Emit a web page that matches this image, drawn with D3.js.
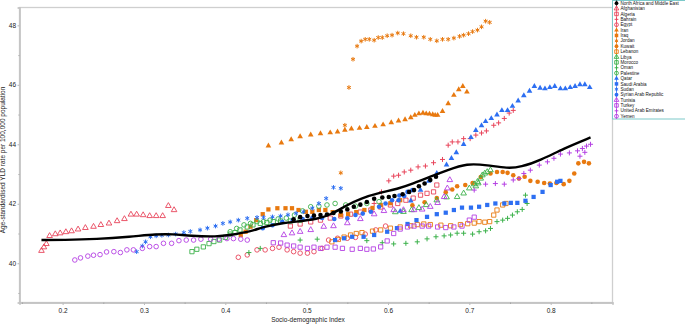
<!DOCTYPE html>
<html>
<head>
<meta charset="utf-8">
<script src="https://cdn.jsdelivr.net/npm/d3@7"></script>
<style>
  body { margin: 0; background: #fff; }
  svg { display: block; font-family: "Liberation Sans", Arial, sans-serif; }
</style>
</head>
<body>
<svg id="chart" width="685" height="325"></svg>
<script>
// ---- data ----
const regionName = "North Africa and Middle East";
const countries = ["Afghanistan", "Algeria", "Bahrain", "Egypt", "Iran", "Iraq", "Jordan", "Kuwait",
  "Lebanon", "Libya", "Morocco", "Oman", "Palestine", "Qatar", "Saudi Arabia", "Sudan",
  "Syrian Arab Republic", "Tunisia", "Turkey", "United Arab Emirates", "Yemen"];

const xTickValues = [0.2, 0.3, 0.4, 0.5, 0.6, 0.7, 0.8];
const xMinorTicks = [0.15, 0.25, 0.35, 0.45, 0.55, 0.65, 0.75, 0.85];
const yTickValues = [40, 42, 44, 46, 48];
const yMinorTicks = [39, 41, 43, 45, 47];

// smoothed regional trend (black line)
const trendSdi = [0.174, 0.201, 0.242, 0.283, 0.316, 0.336, 0.357, 0.390, 0.406, 0.431, 0.447, 0.472, 0.488, 0.513, 0.529,
  0.550, 0.566, 0.591, 0.611, 0.632, 0.652, 0.673, 0.697, 0.722, 0.747, 0.763, 0.788, 0.816, 0.849];
const trendYld = [40.78, 40.78, 40.81, 40.89, 40.98, 40.98, 40.92, 40.89, 40.95, 41.06, 41.23, 41.36, 41.40, 41.49, 41.62,
  41.96, 42.18, 42.38, 42.49, 42.69, 42.91, 43.13, 43.36, 43.30, 43.19, 43.23, 43.47, 43.86, 44.23];

const regionSdi = [0.484, 0.492, 0.501, 0.509, 0.517, 0.525, 0.533, 0.542, 0.550, 0.558, 0.566, 0.574, 0.583, 0.593, 0.601,
  0.608, 0.618, 0.626, 0.632, 0.638, 0.645, 0.652, 0.659];
const regionYld = [41.48, 41.55, 41.59, 41.60, 41.62, 41.64, 41.69, 41.74, 41.81, 41.90, 41.97, 42.06, 42.17, 42.21, 42.23,
  42.26, 42.32, 42.40, 42.46, 42.59, 42.68, 42.80, 42.91];

const afghanistanSdi = [0.174, 0.177, 0.180, 0.184, 0.191, 0.197, 0.204, 0.211, 0.219, 0.228, 0.238, 0.247, 0.257, 0.267, 0.276,
  0.284, 0.291, 0.299, 0.307, 0.315, 0.323, 0.330, 0.337];
const afghanistanYld = [40.42, 40.54, 40.65, 40.92, 40.98, 41.01, 41.05, 41.08, 41.14, 41.19, 41.23, 41.29, 41.34, 41.42, 41.49,
  41.64, 41.64, 41.62, 41.59, 41.59, 41.59, 41.93, 41.79];

const algeriaSdi = [0.480, 0.492, 0.505, 0.517, 0.529, 0.542, 0.554, 0.566, 0.579, 0.591, 0.603, 0.612, 0.622, 0.631, 0.640, 0.648, 0.656, 0.660];
const algeriaYld = [41.25, 41.32, 41.39, 41.45, 41.52, 41.59, 41.65, 41.72, 41.79, 41.89, 41.96, 42.01, 42.12, 42.19, 42.29, 42.35, 42.40, 42.63];

const bahrainSdi = [0.583, 0.592, 0.601, 0.607, 0.613, 0.620, 0.628, 0.637, 0.646, 0.656, 0.667, 0.674, 0.679, 0.686, 0.693,
  0.701, 0.708, 0.715, 0.721, 0.730, 0.736, 0.743, 0.749, 0.754];
const bahrainYld = [42.01, 42.40, 42.77, 42.93, 42.96, 43.07, 43.13, 43.24, 43.27, 43.38, 43.49, 43.97, 44.08, 44.08, 44.19,
  44.19, 44.31, 44.38, 44.45, 44.64, 44.72, 44.87, 45.05, 45.14];

const egyptSdi = [0.416, 0.427, 0.439, 0.449, 0.458, 0.466, 0.476, 0.484, 0.492, 0.501, 0.509, 0.519, 0.527, 0.538, 0.550, 0.560, 0.572, 0.585, 0.597];
const egyptYld = [40.20, 40.28, 40.45, 40.45, 40.50, 40.54, 40.45, 40.39, 40.34, 40.34, 40.39, 40.50, 40.78, 40.84, 40.84, 40.87, 40.98, 41.12, 41.25];

const iranSdi = [0.453, 0.469, 0.481, 0.492, 0.505, 0.517, 0.529, 0.538, 0.547, 0.555, 0.565, 0.574, 0.584, 0.594, 0.604,
  0.613, 0.621, 0.628, 0.633, 0.638, 0.643, 0.647, 0.651, 0.655, 0.658, 0.661, 0.667, 0.674, 0.681, 0.687, 0.692, 0.697];
const iranYld = [43.95, 44.05, 44.16, 44.26, 44.32, 44.36, 44.39, 44.42, 44.48, 44.52, 44.54, 44.57, 44.61, 44.66, 44.73,
  44.79, 44.83, 44.90, 44.98, 45.03, 45.05, 45.03, 45.02, 45.00, 44.98, 44.98, 45.11, 45.37, 45.65, 45.84, 45.95, 45.76];

const iraqSdi = [0.419, 0.425, 0.431, 0.438, 0.446, 0.453, 0.464, 0.474, 0.482, 0.490, 0.499, 0.507, 0.515, 0.523, 0.532,
  0.542, 0.551, 0.561, 0.571, 0.581, 0.591, 0.603, 0.615];
const iraqYld = [40.95, 41.06, 41.23, 41.45, 41.65, 41.81, 41.85, 41.85, 41.85, 41.79, 41.73, 41.73, 41.79, 41.79, 41.72,
  41.62, 41.65, 41.72, 41.79, 41.86, 41.96, 42.02, 42.12];

const jordanSdi = [0.542, 0.547, 0.552, 0.557, 0.562, 0.567, 0.572, 0.577, 0.583, 0.588, 0.593, 0.599, 0.605, 0.612, 0.619, 0.628,
  0.635, 0.644, 0.652, 0.660, 0.667, 0.674, 0.681, 0.688, 0.693, 0.699, 0.704, 0.710, 0.715, 0.720, 0.725];
const jordanYld = [43.04, 44.64, 45.91, 46.86, 47.30, 47.47, 47.53, 47.53, 47.50, 47.59, 47.59, 47.65, 47.67, 47.74, 47.72, 47.65,
  47.60, 47.60, 47.53, 47.48, 47.53, 47.53, 47.57, 47.63, 47.67, 47.72, 47.79, 47.84, 47.95, 48.14, 48.10];

const kuwaitSdi = [0.630, 0.645, 0.660, 0.671, 0.679, 0.685, 0.695, 0.704, 0.714, 0.726, 0.734, 0.741, 0.747, 0.754, 0.761,
  0.768, 0.775, 0.784, 0.792, 0.799, 0.807, 0.816, 0.823, 0.829, 0.834, 0.841, 0.847];
const kuwaitYld = [41.95, 42.05, 42.19, 42.39, 42.48, 42.59, 42.63, 42.70, 42.90, 43.02, 43.07, 43.07, 43.04, 42.96, 42.85,
  42.91, 42.77, 42.74, 42.70, 42.68, 42.70, 42.66, 42.77, 43.02, 43.36, 43.41, 43.36];

const lebanonSdi = [0.531, 0.539, 0.546, 0.554, 0.561, 0.568, 0.581, 0.591, 0.603, 0.615, 0.628, 0.636, 0.644, 0.652, 0.665,
  0.677, 0.689, 0.698, 0.706, 0.712, 0.719, 0.725, 0.730, 0.734, 0.741, 0.745];
const lebanonYld = [40.72, 40.80, 40.88, 40.95, 41.00, 41.03, 41.08, 41.12, 41.18, 41.22, 41.26, 41.30, 41.32, 41.30, 41.28,
  41.26, 41.30, 41.33, 41.35, 41.40, 41.38, 41.40, 41.62, 41.79, 41.96, 42.01];

const libyaSdi = [0.609, 0.619, 0.629, 0.638, 0.647, 0.660, 0.672, 0.685, 0.693, 0.700, 0.706, 0.710, 0.714, 0.716, 0.719, 0.722, 0.726, 0.711, 0.708];
const libyaYld = [41.72, 41.73, 41.79, 41.86, 41.96, 42.12, 42.22, 42.23, 42.35, 42.52, 42.66, 42.74, 42.85, 42.96, 43.02, 43.07, 43.13, 42.69, 42.59];

const moroccoSdi = [0.359, 0.365, 0.373, 0.380, 0.386, 0.393, 0.400, 0.406, 0.412, 0.418, 0.427, 0.434, 0.443, 0.451, 0.459, 0.468, 0.480, 0.492];
const moroccoYld = [40.39, 40.47, 40.55, 40.66, 40.73, 40.78, 40.87, 40.98, 41.03, 41.12, 41.22, 41.29, 41.34, 41.37, 41.40, 41.42, 41.42, 41.45];

const omanSdi = [0.429, 0.443, 0.492, 0.513, 0.574, 0.593, 0.607, 0.622, 0.636, 0.648, 0.659, 0.669, 0.677, 0.685, 0.693,
  0.704, 0.712, 0.720, 0.726, 0.734, 0.741, 0.747, 0.753, 0.759, 0.765, 0.771, 0.769];
const omanYld = [40.36, 40.50, 40.78, 40.81, 40.76, 40.69, 40.65, 40.67, 40.72, 40.82, 40.89, 40.92, 40.95, 41.01, 41.01,
  40.98, 41.06, 41.09, 41.17, 41.40, 41.45, 41.51, 41.62, 41.73, 41.81, 42.01, 42.29];

const palestineSdi = [0.406, 0.414, 0.423, 0.431, 0.439, 0.447, 0.455, 0.465, 0.475, 0.485, 0.495, 0.505, 0.515, 0.525, 0.535, 0.548, 0.560, 0.574, 0.589];
const palestineYld = [41.06, 41.17, 41.29, 41.34, 41.40, 41.40, 41.45, 41.49, 41.52, 41.62, 41.76, 41.90, 41.92, 41.96, 42.01, 41.96, 41.92, 42.01, 42.07];

const qatarSdi = [0.615, 0.628, 0.640, 0.650, 0.660, 0.672, 0.678, 0.684, 0.693, 0.702, 0.708, 0.715, 0.720, 0.727, 0.734, 0.740,
  0.747, 0.753, 0.760, 0.767, 0.774, 0.780, 0.787, 0.793, 0.799, 0.805, 0.812, 0.818, 0.824, 0.830, 0.836, 0.842, 0.848];
const qatarYld = [41.75, 42.10, 42.46, 42.76, 43.03, 43.31, 43.53, 43.72, 44.00, 44.23, 44.47, 44.63, 44.77, 44.87, 44.99, 45.14,
  45.14, 45.28, 45.46, 45.64, 45.79, 45.95, 45.89, 45.87, 45.91, 45.95, 45.87, 45.87, 45.91, 45.95, 46.01, 46.01, 45.91];

const saudiSdi = [0.535, 0.546, 0.556, 0.570, 0.583, 0.599, 0.611, 0.624, 0.635, 0.648, 0.660, 0.671, 0.681, 0.691, 0.702,
  0.712, 0.722, 0.732, 0.743, 0.751, 0.759, 0.769, 0.779, 0.790, 0.800, 0.808, 0.812];
const saudiYld = [40.78, 40.84, 40.89, 40.89, 40.95, 41.06, 41.18, 41.32, 41.45, 41.56, 41.65, 41.70, 41.79, 41.87, 41.87,
  41.90, 41.96, 42.01, 42.01, 42.03, 42.03, 42.10, 42.23, 42.40, 42.63, 42.74, 42.77];

const sudanSdi = [0.291, 0.298, 0.302, 0.308, 0.315, 0.322, 0.330, 0.339, 0.349, 0.357, 0.369, 0.378, 0.388, 0.397, 0.406,
  0.416, 0.427, 0.439, 0.447, 0.458, 0.468, 0.477, 0.487, 0.496, 0.507, 0.515, 0.524, 0.533, 0.542];
const sudanYld = [40.39, 40.58, 40.72, 40.89, 40.92, 40.94, 40.95, 40.98, 41.03, 41.07, 41.12, 41.18, 41.25, 41.34, 41.39,
  41.45, 41.51, 41.54, 41.54, 41.56, 41.59, 41.63, 41.68, 41.73, 41.85, 42.01, 42.18, 42.55, 42.52];

const syriaSdi = [0.446, 0.458, 0.470, 0.483, 0.495, 0.507, 0.519, 0.534, 0.550, 0.560, 0.569, 0.579, 0.589, 0.597, 0.605, 0.614, 0.624, 0.630, 0.620, 0.613];
const syriaYld = [41.18, 41.28, 41.39, 41.45, 41.49, 41.52, 41.52, 41.49, 41.51, 41.62, 41.67, 41.73, 41.90, 42.01, 42.12, 42.28, 42.40, 42.46, 42.26, 42.12];

const tunisiaSdi = [0.472, 0.482, 0.492, 0.505, 0.521, 0.533, 0.550, 0.566, 0.583, 0.595, 0.607, 0.619, 0.632, 0.642, 0.652, 0.661, 0.669, 0.673, 0.676];
const tunisiaYld = [40.95, 41.01, 41.06, 41.12, 41.23, 41.25, 41.35, 41.49, 41.65, 41.76, 41.79, 41.79, 41.79, 41.81, 41.90, 42.03, 42.23, 42.52, 42.80];

const turkeySdi = [0.459, 0.468, 0.476, 0.484, 0.492, 0.501, 0.509, 0.517, 0.525, 0.535, 0.544, 0.556, 0.566, 0.574, 0.582,
  0.591, 0.599, 0.607, 0.615, 0.624, 0.632, 0.642, 0.650, 0.661, 0.671, 0.681, 0.691, 0.700, 0.706];
const turkeyYld = [40.69, 40.68, 40.61, 40.58, 40.54, 40.50, 40.54, 40.50, 40.54, 40.54, 40.50, 40.47, 40.50, 40.47, 40.48,
  40.55, 40.75, 41.00, 41.15, 41.22, 41.25, 41.25, 41.25, 41.22, 41.20, 41.22, 41.25, 41.45, 41.55];

const uaeSdi = [0.706, 0.720, 0.732, 0.743, 0.754, 0.761, 0.767, 0.775, 0.786, 0.796, 0.804, 0.812, 0.823, 0.833, 0.836, 0.839, 0.842, 0.844, 0.849];
const uaeYld = [42.46, 42.66, 42.68, 42.66, 42.80, 42.85, 43.02, 43.13, 43.30, 43.41, 43.53, 43.67, 43.71, 43.78, 43.60, 43.86, 43.73, 43.94, 44.00];

const yemenSdi = [0.215, 0.222, 0.231, 0.238, 0.246, 0.254, 0.263, 0.271, 0.279, 0.287, 0.298, 0.307, 0.315, 0.324, 0.334,
  0.343, 0.352, 0.361, 0.370, 0.382, 0.392, 0.402, 0.410, 0.419, 0.427];
const yemenYld = [40.11, 40.18, 40.24, 40.27, 40.29, 40.38, 40.39, 40.36, 40.45, 40.45, 40.50, 40.56, 40.56, 40.67, 40.67,
  40.76, 40.78, 40.78, 40.81, 40.81, 40.81, 40.83, 40.83, 40.81, 40.78];

// ---- drawing ----
var RED = "#e8445a", ORANGE = "#e8790f", GREEN = "#3bb14a", BLUE = "#2d6ff2", PURPLE = "#b43fe3";

var pointsByName = {
  "North Africa and Middle East": [regionSdi, regionYld],
  "Afghanistan": [afghanistanSdi, afghanistanYld],
  "Algeria": [algeriaSdi, algeriaYld],
  "Bahrain": [bahrainSdi, bahrainYld],
  "Egypt": [egyptSdi, egyptYld],
  "Iran": [iranSdi, iranYld],
  "Iraq": [iraqSdi, iraqYld],
  "Jordan": [jordanSdi, jordanYld],
  "Kuwait": [kuwaitSdi, kuwaitYld],
  "Lebanon": [lebanonSdi, lebanonYld],
  "Libya": [libyaSdi, libyaYld],
  "Morocco": [moroccoSdi, moroccoYld],
  "Oman": [omanSdi, omanYld],
  "Palestine": [palestineSdi, palestineYld],
  "Qatar": [qatarSdi, qatarYld],
  "Saudi Arabia": [saudiSdi, saudiYld],
  "Sudan": [sudanSdi, sudanYld],
  "Syrian Arab Republic": [syriaSdi, syriaYld],
  "Tunisia": [tunisiaSdi, tunisiaYld],
  "Turkey": [turkeySdi, turkeyYld],
  "United Arab Emirates": [uaeSdi, uaeYld],
  "Yemen": [yemenSdi, yemenYld]
};

var look = {
  "North Africa and Middle East": {color: "#000", shape: "circle", filled: true},
  "Afghanistan": {color: RED, shape: "triangle", filled: false},
  "Algeria": {color: RED, shape: "square", filled: false},
  "Bahrain": {color: RED, shape: "plus"},
  "Egypt": {color: RED, shape: "circle", filled: false},
  "Iran": {color: ORANGE, shape: "triangle", filled: true},
  "Iraq": {color: ORANGE, shape: "square", filled: true},
  "Jordan": {color: ORANGE, shape: "asterisk"},
  "Kuwait": {color: ORANGE, shape: "circle", filled: true},
  "Lebanon": {color: ORANGE, shape: "square", filled: false},
  "Libya": {color: GREEN, shape: "triangle", filled: false},
  "Morocco": {color: GREEN, shape: "square", filled: false},
  "Oman": {color: GREEN, shape: "plus"},
  "Palestine": {color: GREEN, shape: "circle", filled: false},
  "Qatar": {color: BLUE, shape: "triangle", filled: true},
  "Saudi Arabia": {color: BLUE, shape: "square", filled: true},
  "Sudan": {color: BLUE, shape: "asterisk"},
  "Syrian Arab Republic": {color: BLUE, shape: "circle", filled: true},
  "Tunisia": {color: PURPLE, shape: "triangle", filled: false},
  "Turkey": {color: PURPLE, shape: "square", filled: false},
  "United Arab Emirates": {color: PURPLE, shape: "plus"},
  "Yemen": {color: PURPLE, shape: "circle", filled: false}
};

var svg = d3.select("#chart"),
    plot = {left: 19.5, right: 612.5, top: 7.5, bottom: 302.5};

var x = d3.scaleLinear().domain([0.147, 0.876]).range([plot.left, plot.right]);
var y = d3.scaleLinear().domain([38.68, 48.6]).range([plot.bottom, plot.top]);

function markerPath(shape, s) {
  if (shape === "plus") return "M" + (-s) + ",0H" + s + "M0," + (-s) + "V" + s;
  if (shape === "asterisk") {
    var a = s * 0.866, b = s * 0.5;
    return "M0," + (-s) + "V" + s +
      "M" + (-a) + "," + (-b) + "L" + a + "," + b +
      "M" + (-a) + "," + b + "L" + a + "," + (-b);
  }
  var type = {circle: d3.symbolCircle, square: d3.symbolSquare, triangle: d3.symbolTriangle}[shape];
  var k = {circle: 3.14, square: 3.4, triangle: 2.6}[shape];
  return d3.symbol().type(type).size(s * s * k)();
}

function styleMarker(sel, st) {
  var lineOnly = st.shape === "plus" || st.shape === "asterisk";
  sel.attr("fill", lineOnly || !st.filled ? "none" : st.color)
     .attr("stroke", lineOnly || !st.filled ? st.color : "none")
     .attr("stroke-width", lineOnly ? 1 : 0.9);
}

// frame
svg.append("rect")
    .attr("x", plot.left).attr("y", plot.top)
    .attr("width", plot.right - plot.left).attr("height", plot.bottom - plot.top)
    .attr("fill", "none").attr("stroke", "#cfcfcf").attr("stroke-width", 1.3);

// axes
var gx = svg.append("g").attr("transform", "translate(0," + plot.bottom + ")")
    .call(d3.axisBottom(x).tickValues(xTickValues).tickSize(2.5).tickPadding(3).tickFormat(d3.format(".1f")));
var gxm = svg.append("g").attr("transform", "translate(0," + plot.bottom + ")")
    .call(d3.axisBottom(x).tickValues(xMinorTicks).tickSize(1.5).tickFormat(""));
var gy = svg.append("g").attr("transform", "translate(" + plot.left + ",0)")
    .call(d3.axisLeft(y).tickValues(yTickValues).tickSize(2).tickPadding(1.5).tickFormat(d3.format("d")));
var gym = svg.append("g").attr("transform", "translate(" + plot.left + ",0)")
    .call(d3.axisLeft(y).tickValues(yMinorTicks).tickSize(1.2).tickFormat(""));

[gx, gxm, gy, gym].forEach(function(g) {
  g.select(".domain").attr("stroke", "#c4c4c4").attr("stroke-width", 1.3);
  g.selectAll(".tick line").attr("stroke", "#9a9a9a").attr("stroke-width", 0.7);
  g.selectAll(".tick text").attr("font-size", 6.5).attr("fill", "#222").attr("font-family", "Liberation Sans, Arial, sans-serif");
});

svg.append("text")
    .attr("x", 308).attr("y", 322)
    .attr("text-anchor", "middle").attr("font-size", 6.5).attr("fill", "#222")
    .text("Socio-demographic Index");

svg.append("text")
    .attr("transform", "translate(5,160) rotate(-90)")
    .attr("text-anchor", "middle").attr("font-size", 6.5).attr("fill", "#222")
    .text("Age-standardised YLD rate per 100,000 population");

// points
var drawOrder = countries.concat([regionName]);
drawOrder.forEach(function(name) {
  var st = look[name], arr = pointsByName[name];
  var pts = arr[0].map(function(v, i) { return [v, arr[1][i]]; });
  var d = markerPath(st.shape, st.shape === "plus" ? 2.5 : 2.3);
  svg.append("g").selectAll("path")
    .data(pts)
    .enter().append("path")
      .attr("transform", function(p) { return "translate(" + x(p[0]) + "," + y(p[1]) + ")"; })
      .attr("d", d)
      .call(styleMarker, st);
});

// regional smoother
var trend = trendSdi.map(function(v, i) { return [v, trendYld[i]]; });
svg.append("path")
    .datum(trend)
    .attr("fill", "none")
    .attr("stroke", "#000")
    .attr("stroke-width", 2.4)
    .attr("d", d3.line().curve(d3.curveBasis)
      .x(function(p) { return x(p[0]); })
      .y(function(p) { return y(p[1]); }));

// legend
var legendNames = [regionName].concat(countries);
var lg = svg.append("g");
lg.append("rect")
    .attr("x", 612.5).attr("y", 0.5).attr("width", 80).attr("height", 118.5)
    .attr("fill", "#fff").attr("stroke", "#7cc9c9").attr("stroke-width", 1);

var row = 5.38;
legendNames.forEach(function(name, i) {
  var st = look[name], cy = 3.2 + i * row;
  lg.append("line")
      .attr("x1", 616.5).attr("x2", 616.5)
      .attr("y1", cy - row / 2).attr("y2", cy + row / 2)
      .attr("stroke", st.color).attr("stroke-width", 0.8);
  lg.append("path")
      .attr("transform", "translate(616.5," + cy + ")")
      .attr("d", markerPath(st.shape, 1.9))
      .call(styleMarker, st);
  lg.append("text")
      .attr("x", 620.5).attr("y", cy)
      .attr("dy", "0.35em")
      .attr("font-size", 4.6).attr("fill", "#111")
      .text(name);
});
</script>
</body>
</html>
